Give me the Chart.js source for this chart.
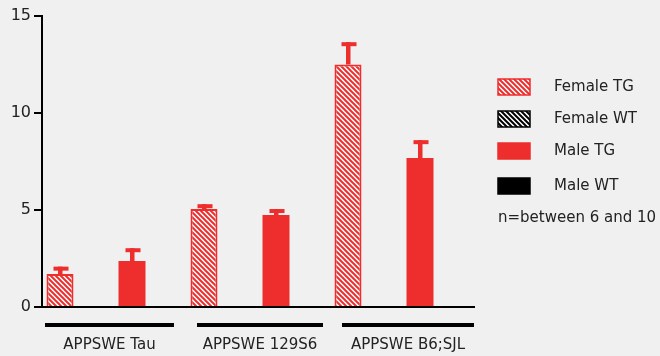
<!DOCTYPE html>
<html>
<head>
<meta charset="utf-8">
<script src="https://cdn.jsdelivr.net/npm/chart.js@4"></script>
<style>
  html, body { margin: 0; padding: 0; background: #f0f0f0; }
  #wrap { width: 660px; height: 356px; position: relative; }
</style>
</head>
<body>
<div id="wrap"><canvas id="chart" width="660" height="356"></canvas></div>
<script>
// ==================== DATA ====================
const groups = ["APPSWE Tau", "APPSWE 129S6", "APPSWE B6;SJL"];
const seriesNames = ["Female TG", "Female WT", "Male TG", "Male WT"];
const femaleTG = [1.7, 5.05, 12.5];
const femaleTGErr = [0.38, 0.25, 1.15];
const femaleWT = [null, null, null];
const maleTG = [2.37, 4.74, 7.68];
const maleTGErr = [0.66, 0.31, 0.92];
const maleWT = [null, null, null];
const yTicks = [0, 5, 10, 15];
const note = "n=between 6 and 10";

const RED = "#ee2d2d";
const INK = "#222";
const FONT = "'DejaVu Sans', sans-serif";

// ==================== HATCH PATTERNS ====================
function hatch(color) {
  const c = document.createElement("canvas");
  const s = 5;
  c.width = s; c.height = s;
  const g = c.getContext("2d");
  g.fillStyle = "#fff";
  g.fillRect(0, 0, s, s);
  g.strokeStyle = color;
  g.lineWidth = 2;
  g.beginPath();
  g.moveTo(-1, -1); g.lineTo(s + 1, s + 1);
  g.moveTo(-1, s - 1); g.lineTo(1, s + 1);
  g.moveTo(s - 1, -1); g.lineTo(s + 1, 1);
  g.stroke();
  return g.createPattern(c, "repeat");
}
const ctx = document.getElementById("chart").getContext("2d");
const redHatch = hatch(RED);
const blackHatch = hatch("#000");

// ==================== PLUGINS ====================
const errorBars = {
  id: "errorBars",
  afterDatasetsDraw(chart) {
    const g = chart.ctx, y = chart.scales.y;
    chart.data.datasets.forEach((ds, di) => {
      if (!ds.err) return;
      chart.getDatasetMeta(di).data.forEach((el, i) => {
        const v = ds.data[i];
        if (v == null) return;
        const top = y.getPixelForValue(v + ds.err[i]);
        g.save();
        g.fillStyle = ds.errColor;
        g.fillRect(el.x - 2, top, 4.5, el.y - top);
        g.fillRect(el.x - 6.5, top, 15, 4);
        g.restore();
      });
    });
  }
};

const extras = {
  id: "extras",
  afterDraw(chart) {
    const g = chart.ctx, x = chart.scales.x;
    // bracket extents relative to each group centre
    const brackets = [[-69, 60], [-61, 65], [-60, 72]];
    g.save();
    groups.forEach((name, i) => {
      const cx = x.getPixelForValue(i);
      const [l, r] = brackets[i];
      g.fillStyle = "#000";
      g.fillRect(cx + l, 323, r - l, 4);
      g.fillStyle = INK;
      g.font = "15px " + FONT;
      g.textAlign = "center";
      g.textBaseline = "middle";
      g.fillText(name, cx + (l + r) / 2, 345);
    });
    // legend
    const fills = [
      { bg: redHatch, border: RED },
      { bg: blackHatch, border: "#000" },
      { bg: RED, border: RED },
      { bg: "#000", border: "#000" }
    ];
    const rows = [87, 119, 151, 186];
    seriesNames.forEach((name, i) => {
      const f = fills[i], yc = rows[i];
      g.fillStyle = f.bg;
      g.fillRect(498, yc - 8, 32, 16);
      g.strokeStyle = f.border;
      g.lineWidth = 1.5;
      g.strokeRect(498, yc - 8, 32, 16);
      g.fillStyle = INK;
      g.font = "15px " + FONT;
      g.textAlign = "left";
      g.textBaseline = "middle";
      g.fillText(name, 554, yc);
    });
    g.fillText(note, 498, 218);
    g.restore();
  }
};

// ==================== CHART ====================
new Chart(ctx, {
  type: "bar",
  data: {
    labels: groups,
    datasets: [
      { label: seriesNames[0], data: femaleTG, err: femaleTGErr, errColor: RED,
        backgroundColor: redHatch, borderColor: RED, borderWidth: 2, borderSkipped: "start" },
      { label: seriesNames[1], data: femaleWT, backgroundColor: blackHatch, borderColor: "#000", borderWidth: 1.5 },
      { label: seriesNames[2], data: maleTG, err: maleTGErr, errColor: RED,
        backgroundColor: RED, borderWidth: 0 },
      { label: seriesNames[3], data: maleWT, backgroundColor: "#000", borderWidth: 0 }
    ]
  },
  options: {
    responsive: false,
    animation: false,
    events: [],
    layout: { padding: { top: 16, right: 186, left: 0, bottom: 0 } },
    datasets: { bar: { categoryPercentage: 1, barPercentage: 0.75 } },
    plugins: { legend: { display: false }, tooltip: { enabled: false } },
    scales: {
      x: {
        grid: { display: false },
        border: { display: true, color: "#000", width: 2 },
        ticks: { display: false },
        afterFit(s) { s.height = 49; }
      },
      y: {
        min: 0, max: 15,
        afterBuildTicks(s) { s.ticks = yTicks.map(v => ({ value: v })); },
        grid: { drawOnChartArea: false, drawTicks: true, tickLength: 8, color: "#000", lineWidth: 2 },
        border: { display: true, color: "#000", width: 2 },
        ticks: { color: INK, font: { family: FONT, size: 16 }, padding: 3 },
        afterFit(s) { s.width = 42; }
      }
    }
  },
  plugins: [errorBars, extras]
});
</script>
</body>
</html>
